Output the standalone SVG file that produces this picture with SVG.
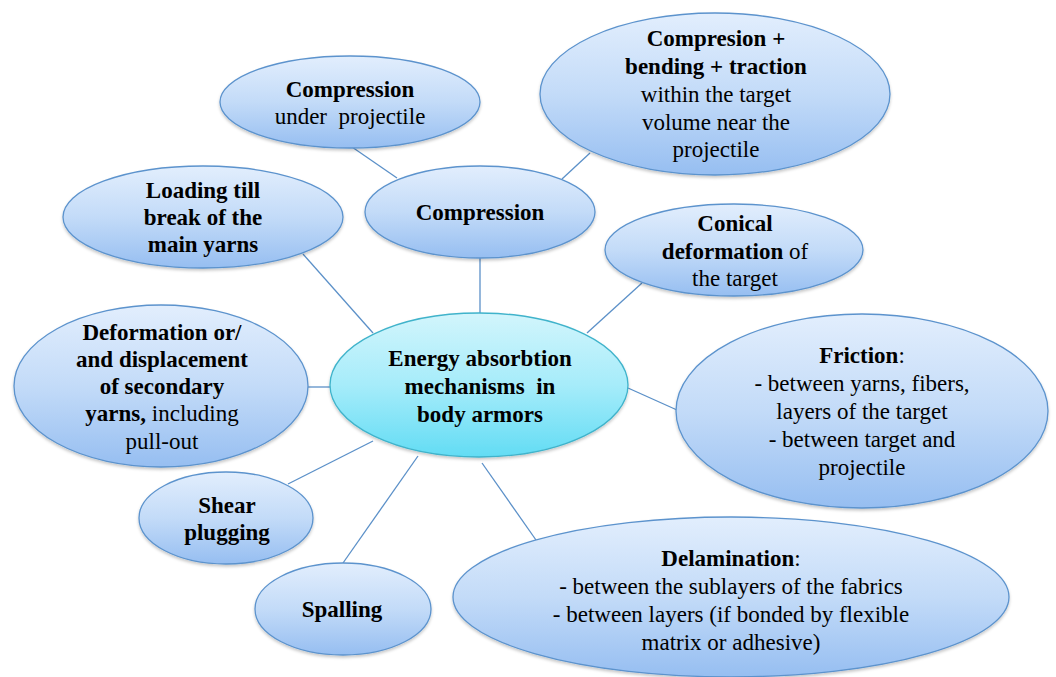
<svg xmlns="http://www.w3.org/2000/svg" width="1056" height="677" viewBox="0 0 1056 677">
<defs>
<linearGradient id="gb" x1="0" y1="0" x2="0" y2="1">
<stop offset="0" stop-color="#e2eefd"/>
<stop offset="0.5" stop-color="#c3dbf8"/>
<stop offset="1" stop-color="#96bef1"/>
</linearGradient>
<linearGradient id="gc" x1="0" y1="0" x2="0" y2="1">
<stop offset="0" stop-color="#d2f5fc"/>
<stop offset="0.5" stop-color="#a6ecfa"/>
<stop offset="1" stop-color="#62dcf4"/>
</linearGradient>
<filter id="sh" x="-10%" y="-10%" width="120%" height="130%">
<feDropShadow dx="0" dy="2" stdDeviation="1.5" flood-color="#000" flood-opacity="0.22"/>
</filter>
</defs>
<style>
.n{fill:url(#gb);stroke:#5c93cd;stroke-width:1.3;filter:url(#sh)}
.c{fill:url(#gc);stroke:#3fb3cb;stroke-width:1.3;filter:url(#sh)}
.e{stroke:#5b90c8;stroke-width:1.3;fill:none}
.t{font-family:'Liberation Serif','Times New Roman',serif;font-size:23px;fill:#000;text-anchor:middle}
.b{font-weight:bold}
</style>
<rect width="1056" height="677" fill="#fff"/>
<g id="connectors">
<line class="e" x1="352" y1="147" x2="397" y2="178"/>
<line class="e" x1="590" y1="153" x2="562" y2="179"/>
<line class="e" x1="480" y1="258" x2="480" y2="313"/>
<line class="e" x1="303" y1="254" x2="373" y2="333"/>
<line class="e" x1="642" y1="283" x2="587" y2="333"/>
<line class="e" x1="308" y1="387" x2="331" y2="387"/>
<line class="e" x1="628" y1="388" x2="677" y2="410"/>
<line class="e" x1="288" y1="484" x2="373" y2="441"/>
<line class="e" x1="343" y1="563" x2="418" y2="456"/>
<line class="e" x1="482" y1="463" x2="536" y2="540"/>
</g>
<g id="n-compression-under" class="t">
<ellipse class="n" cx="350" cy="102" rx="130" ry="46"/>
<text x="350" y="97" class="b">Compression</text>
<text x="350" y="124" xml:space="preserve">under  projectile</text>
</g>
<g id="n-compresion-bending" class="t">
<ellipse class="n" cx="715" cy="94" rx="175" ry="81"/>
<text x="716" y="46" class="b">Compresion +</text>
<text x="716" y="74" class="b">bending + traction</text>
<text x="716" y="102">within the target</text>
<text x="716" y="130">volume near the</text>
<text x="716" y="157">projectile</text>
</g>
<g id="n-compression" class="t">
<ellipse class="n" cx="480" cy="212" rx="115" ry="46"/>
<text x="480" y="220" class="b">Compression</text>
</g>
<g id="n-loading" class="t">
<ellipse class="n" cx="203" cy="217" rx="140" ry="51"/>
<text x="203" y="198" class="b">Loading till</text>
<text x="203" y="225" class="b">break of the</text>
<text x="203" y="252" class="b">main yarns</text>
</g>
<g id="n-conical" class="t">
<ellipse class="n" cx="734" cy="250" rx="129" ry="46"/>
<text x="735" y="231" class="b">Conical</text>
<text x="735" y="259"><tspan class="b">deformation</tspan> of</text>
<text x="735" y="286">the target</text>
</g>
<g id="n-center" class="t">
<ellipse class="c" cx="479" cy="385" rx="149" ry="72"/>
<text x="480" y="366" class="b">Energy absorbtion</text>
<text x="480" y="394" class="b" xml:space="preserve">mechanisms  in</text>
<text x="480" y="422" class="b">body armors</text>
</g>
<g id="n-deformation" class="t">
<ellipse class="n" cx="161" cy="386" rx="147" ry="81"/>
<text x="162" y="340" class="b">Deformation or/</text>
<text x="162" y="367" class="b">and displacement</text>
<text x="162" y="394" class="b">of secondary</text>
<text x="162" y="421"><tspan class="b">yarns,</tspan> including</text>
<text x="162" y="449">pull-out</text>
</g>
<g id="n-friction" class="t">
<ellipse class="n" cx="862" cy="411" rx="186" ry="97"/>
<text x="862" y="363"><tspan class="b">Friction</tspan>:</text>
<text x="862" y="391">- between yarns, fibers,</text>
<text x="862" y="419">layers of the target</text>
<text x="862" y="447">- between target and</text>
<text x="862" y="475">projectile</text>
</g>
<g id="n-shear" class="t">
<ellipse class="n" cx="226" cy="518" rx="87" ry="46"/>
<text x="227" y="513" class="b">Shear</text>
<text x="227" y="540" class="b">plugging</text>
</g>
<g id="n-spalling" class="t">
<ellipse class="n" cx="343" cy="609" rx="88" ry="46"/>
<text x="342" y="617" class="b">Spalling</text>
</g>
<g id="n-delamination" class="t">
<ellipse class="n" cx="731" cy="597" rx="278" ry="80"/>
<text x="731" y="566"><tspan class="b">Delamination</tspan>:</text>
<text x="731" y="594">- between the sublayers of the fabrics</text>
<text x="731" y="622">- between layers (if bonded by flexible</text>
<text x="731" y="650">matrix or adhesive)</text>
</g>
</svg>
